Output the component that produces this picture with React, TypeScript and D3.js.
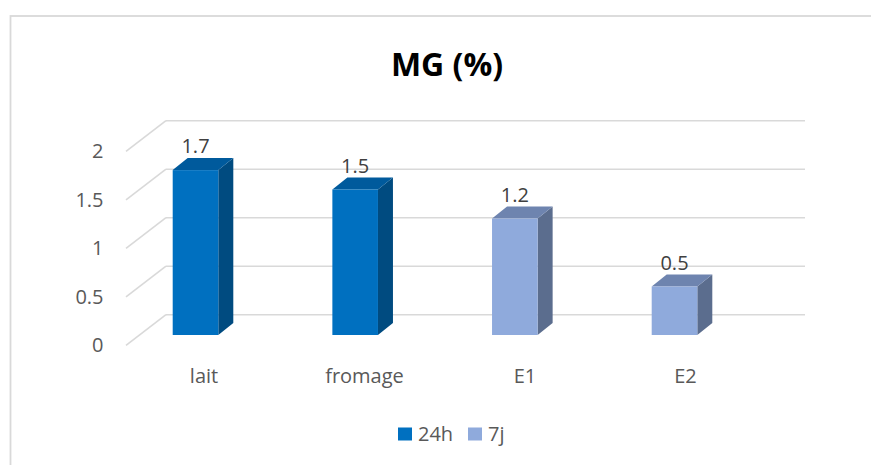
import React from "react";
import * as d3 from "d3";

const categories = ["lait", "fromage", "E1", "E2"];
const values = [1.7, 1.5, 1.2, 0.5];
const seriesOf = ["24h", "24h", "7j", "7j"];
const seriesNames = ["24h", "7j"];
const yTicks = [0, 0.5, 1, 1.5, 2];
const title = "MG (%)";

const W = 871;
const H = 465;
const FONT = "'Open Sans', Calibri, sans-serif";

const palette: Record<string, { front: string; top: string; side: string }> = {
  "24h": { front: "#0070C0", top: "#005A9C", side: "#004B80" },
  "7j": { front: "#8FAADC", top: "#6E84AF", side: "#5B6D8E" },
};

export default function App() {
  // back wall scale
  const yBack = d3.scaleLinear().domain([0, 2]).range([314.7, 120.7]);
  // bar plane scale
  const yBar = d3.scaleLinear().domain([0, 2]).range([335, 141]);
  const wallLeft = 166;
  const wallRight = 805;
  const depthDx = -40;
  const depthDy = 30.6;

  const xBar = d3.scalePoint<string>().domain(categories).range([195.5, 674.5]);
  const xLabel = d3.scalePoint<string>().domain(categories).range([204, 685.5]);
  const barW = 45.6;
  const sdx = 15;
  const sdy = -12;

  return (
    <svg
      width={W}
      height={H}
      style={{ position: "absolute", left: 0, top: 0, background: "#fff" }}
      fontFamily={FONT}
    >
      <rect x={0} y={0} width={W} height={H} fill="#fff" />
      {/* chart border */}
      <rect x={10.5} y={16} width={W + 20} height={H + 20} fill="none" stroke="#d9d9d9" strokeWidth={1.8} />

      <text x={447} y={76} textAnchor="middle" fontSize={32} fontWeight="bold" fill="#000">
        {title}
      </text>

      {/* gridlines */}
      {yTicks.map((t) => (
        <g key={t}>
          <line x1={wallLeft} x2={wallRight} y1={yBack(t)} y2={yBack(t)} stroke="#d9d9d9" strokeWidth={1.6} />
          <line
            x1={wallLeft}
            y1={yBack(t)}
            x2={wallLeft + depthDx}
            y2={yBack(t) + depthDy}
            stroke="#d9d9d9"
            strokeWidth={1.6}
          />
          <text
            x={103.5}
            y={yBack(t) + depthDy}
            dy="0.35em"
            textAnchor="end"
            fontSize={20}
            fill="#595959"
          >
            {t}
          </text>
        </g>
      ))}

      {/* bars */}
      {categories.map((c, i) => {
        const v = values[i];
        const col = palette[seriesOf[i]];
        const cx = xBar(c) as number;
        const x0 = cx - barW / 2;
        const x1 = cx + barW / 2;
        const yT = yBar(v);
        const yB = yBar(0);
        const topPts = [
          [x0, yT],
          [x0 + sdx, yT + sdy],
          [x1 + sdx, yT + sdy],
          [x1, yT],
        ];
        const sidePts = [
          [x1, yT],
          [x1 + sdx, yT + sdy],
          [x1 + sdx, yB + sdy],
          [x1, yB],
        ];
        return (
          <g key={c}>
            <polygon points={sidePts.map((p) => p.join(",")).join(" ")} fill={col.side} />
            <polygon points={topPts.map((p) => p.join(",")).join(" ")} fill={col.top} />
            <rect x={x0} y={yT} width={barW} height={yB - yT} fill={col.front} />
            <text x={cx} y={yT + sdy - 5} textAnchor="middle" fontSize={20} fill="#404040">
              {String(v)}
            </text>
          </g>
        );
      })}

      {/* category labels */}
      {categories.map((c) => (
        <text key={c} x={xLabel(c) as number} y={383} textAnchor="middle" fontSize={20} fill="#595959">
          {c}
        </text>
      ))}

      {/* legend */}
      {seriesNames.map((s, i) => {
        const lx = [398, 468][i];
        return (
          <g key={s}>
            <rect x={lx} y={427.5} width={14} height={13} fill={palette[s].front} />
            <text x={lx + 20} y={441} fontSize={20} fill="#595959">
              {s}
            </text>
          </g>
        );
      })}
    </svg>
  );
}
